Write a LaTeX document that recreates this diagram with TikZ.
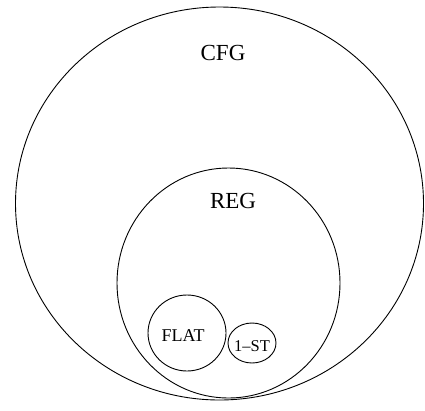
\documentclass[tikz,border=0pt]{standalone}
\usepackage{fontspec}
\setmainfont{Liberation Serif}
\begin{document}
\begin{tikzpicture}[x=1pt,y=-1pt,
  setline/.style={draw=black,line width=0.9pt},
  lbl/.style={inner sep=0pt,anchor=center}]
\useasboundingbox (0,0) rectangle (425,410);
\draw[setline] (219.5,203.5) ellipse [x radius=204,y radius=196.5];
\draw[setline] (228.5,283) ellipse [x radius=111.5,y radius=115];
\draw[setline] (187,333) ellipse [x radius=39,y radius=38];
\draw[setline] (252,343) ellipse [x radius=24,y radius=20];
\node[lbl,font=\fontsize{23}{25}\selectfont] (cfg) at (223,53) {CFG};
\node[lbl,font=\fontsize{23}{25}\selectfont] (reg) at (233,201) {REG};
\node[lbl,font=\fontsize{18}{20}\selectfont] (flat) at (183,336) {FLAT};
\node[lbl,font=\fontsize{16.5}{18}\selectfont] (st) at (252,346) {1–ST};
\end{tikzpicture}
\end{document}
